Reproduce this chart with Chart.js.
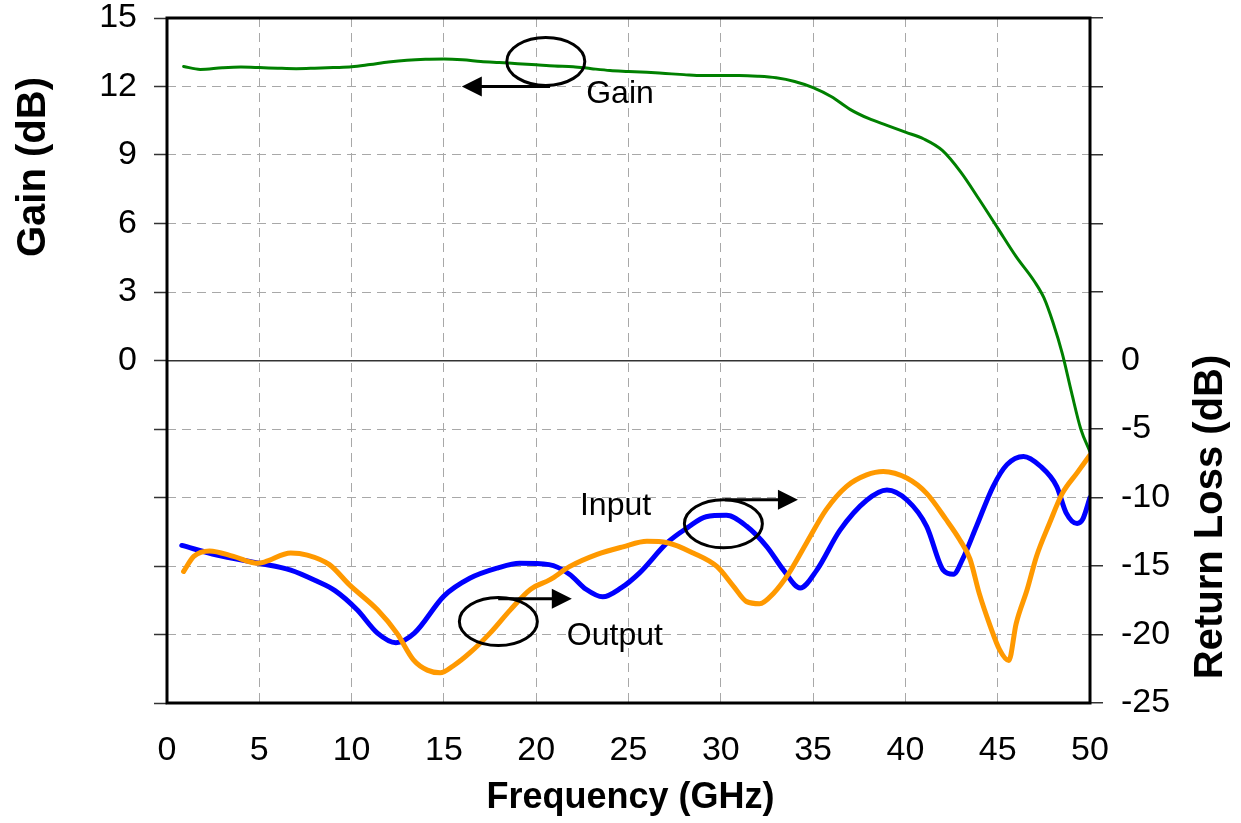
<!DOCTYPE html>
<html>
<head>
  <meta charset="utf-8">
  <script src="https://cdn.jsdelivr.net/npm/chart.js@4.4.1/dist/chart.umd.min.js"></script>
  <style>
    html, body { margin: 0; padding: 0; background: #fff; }
  </style>
</head>
<body>
<canvas id="myChart" width="1241" height="823"></canvas>
<script>
const FONT = '"Liberation Sans", Arial, Helvetica, sans-serif';

// Gain, left axis (dB)
const gainFreq = [0.9, 1.8, 3, 4, 5, 6, 7, 8, 9, 10, 11, 12, 13, 14, 15, 16, 17, 18, 19, 20,
  21, 22, 23, 24, 25, 26, 27, 28, 29, 30, 31, 32, 33, 34, 35, 36, 37, 38, 39, 40,
  41, 42, 43, 44, 45, 46, 47, 47.5, 48, 48.5, 49, 49.5, 50];
const gainDb = [12.88, 12.75, 12.82, 12.85, 12.83, 12.8, 12.78, 12.8, 12.83, 12.86, 12.96, 13.07, 13.15, 13.19, 13.2, 13.17, 13.1, 13.05, 13.0, 12.95,
  12.9, 12.87, 12.78, 12.7, 12.66, 12.62, 12.57, 12.52, 12.48, 12.48, 12.48, 12.45, 12.38, 12.22, 11.95, 11.55, 11.0, 10.6, 10.3, 10.0,
  9.7, 9.2, 8.25, 7.05, 5.8, 4.55, 3.45, 2.75, 1.65, 0.3, -1.4, -3.0, -4.0];

// Input return loss, right axis (dB)
const inputFreq = [0.8, 2.7, 5.0, 6.7, 8.1, 9.1, 10.3, 11.4, 12.4, 13.4, 15.0, 16.4, 17.9, 19.1, 20.7, 21.8, 22.7, 23.6, 24.6, 25.6,
  27.1, 28.2, 29.2, 30.3, 31.4, 32.5, 33.4, 34.3, 35.2, 36.45, 37.9, 39.0, 40.1, 41.15, 42.05, 42.6, 43.1, 43.85, 44.75, 45.5,
  46.4, 47.3, 48.2, 48.7, 49.3, 49.6, 50.0];
const inputRl = [-13.5, -14.2, -14.8, -15.3, -16.1, -16.8, -18.2, -19.9, -20.6, -19.9, -17.2, -15.9, -15.15, -14.8, -14.9, -15.6, -16.7, -17.25, -16.6, -15.5,
  -13.3, -12.2, -11.4, -11.3, -12.1, -13.6, -15.3, -16.6, -15.3, -12.4, -10.2, -9.45, -10.2, -12.1, -15.3, -15.6, -14.5, -12.1, -9.2, -7.6,
  -7.0, -7.7, -9.2, -11.1, -11.9, -11.6, -10.0];

// Output return loss, right axis (dB)
const outputFreq = [0.9, 1.45, 2.3, 3.6, 4.9, 5.3, 6.7, 7.6, 8.8, 9.9, 11.4, 12.45, 13.35, 14.1, 14.8, 15.5, 16.4, 17.5, 18.6, 19.7,
  20.75, 21.8, 23.3, 24.7, 26.0, 27.1, 28.5, 29.8, 30.7, 31.4, 32.1, 32.85, 33.7, 34.65, 35.7, 36.8, 37.9, 38.8, 40.1, 41.15,
  42.2, 42.95, 43.5, 44.0, 44.6, 45.1, 45.6, 46.0, 46.6, 47.1, 47.8, 48.5, 49.3, 50.0];
const outputRl = [-15.4, -14.3, -13.9, -14.3, -14.8, -14.7, -14.05, -14.2, -14.9, -16.4, -18.2, -19.9, -21.85, -22.6, -22.8, -22.3, -21.35, -19.9, -18.2, -16.7,
  -16.0, -15.05, -14.15, -13.6, -13.2, -13.3, -14.05, -15.05, -16.5, -17.6, -17.75, -17.0, -15.5, -13.3, -10.9, -9.2, -8.35, -8.1, -8.6, -9.7,
  -11.6, -13.1, -14.5, -17.0, -19.4, -21.1, -21.9, -19.2, -16.7, -14.3, -11.9, -9.7, -8.2, -6.9];

// callouts: ellipse centre, arrow (from x, to x, at y), label left/baseline, in data units
const notes = [
  { text: 'Gain', axis: 'y', ellipse: [20.52, 13.1], arrow: [20.75, 15.97, 12.0], label: [22.71, 11.27] },
  { text: 'Input', axis: 'y2', ellipse: [30.14, -11.92], arrow: [30.23, 34.18, -10.17], label: [22.37, -11.26] },
  { text: 'Output', axis: 'y2', ellipse: [17.95, -19.05], arrow: [17.94, 21.93, -17.39], label: [21.66, -20.75] }
];

const pairs = (xs, ys) => xs.map((x, i) => ({ x: x, y: ys[i] }));

const extras = {
  id: 'extras',
  afterDraw(chart) {
    const ctx = chart.ctx;
    const a = chart.chartArea;
    const sx = chart.scales.x;
    ctx.save();
    // frame
    ctx.strokeStyle = '#000';
    ctx.lineWidth = 3;
    ctx.strokeRect(a.left, a.top, a.right - a.left, a.bottom - a.top);

    // callouts
    ctx.lineWidth = 3;
    ctx.fillStyle = '#000';
    notes.forEach(n => {
      const sy = chart.scales[n.axis];
      ctx.beginPath();
      ctx.ellipse(sx.getPixelForValue(n.ellipse[0]), sy.getPixelForValue(n.ellipse[1]), 39, 24, 0, 0, Math.PI * 2);
      ctx.stroke();
      const x1 = sx.getPixelForValue(n.arrow[0]);
      const x2 = sx.getPixelForValue(n.arrow[1]);
      const y = sy.getPixelForValue(n.arrow[2]);
      const dir = Math.sign(x2 - x1);
      ctx.beginPath();
      ctx.moveTo(x1, y);
      ctx.lineTo(x2 - dir * 18, y);
      ctx.stroke();
      ctx.beginPath();
      ctx.moveTo(x2, y);
      ctx.lineTo(x2 - dir * 20, y - 10);
      ctx.lineTo(x2 - dir * 20, y + 10);
      ctx.closePath();
      ctx.fill();
      ctx.font = '32px ' + FONT;
      ctx.textAlign = 'left';
      ctx.textBaseline = 'alphabetic';
      ctx.fillText(n.text, sx.getPixelForValue(n.label[0]), sy.getPixelForValue(n.label[1]));
    });

    // axis titles
    ctx.textAlign = 'center';
    ctx.textBaseline = 'middle';
    ctx.font = 'bold 36px ' + FONT;
    ctx.fillText('Frequency (GHz)', (a.left + a.right) / 2 + 2, 798);
    ctx.font = 'bold 40px ' + FONT;
    ctx.save();
    ctx.translate(34, 167);
    ctx.rotate(-Math.PI / 2);
    ctx.fillText('Gain (dB)', 0, 0);
    ctx.restore();
    ctx.save();
    ctx.translate(1211, 517);
    ctx.rotate(-Math.PI / 2);
    ctx.fillText('Return Loss (dB)', 0, 0);
    ctx.restore();
    ctx.restore();
  }
};

const tickFont = { family: FONT, size: 34, lineHeight: 1 };

// fixed axis sizes so the plot area sits where the original one does
const fitY = w => s => { s.width = w; s.paddingTop = 0; s.paddingBottom = 0; };

new Chart(document.getElementById('myChart'), {
  type: 'line',
  data: {
    datasets: [
      { label: 'Gain', data: pairs(gainFreq, gainDb), yAxisID: 'y', borderColor: '#008000', borderWidth: 3 },
      { label: 'Output', data: pairs(outputFreq, outputRl), yAxisID: 'y2', borderColor: '#FF9900', borderWidth: 5 },
      { label: 'Input', data: pairs(inputFreq, inputRl), yAxisID: 'y2', borderColor: '#0000FF', borderWidth: 5 }
    ]
  },
  options: {
    responsive: false,
    animation: false,
    layout: { padding: { top: 18 } },
    elements: {
      point: { radius: 0 },
      line: { cubicInterpolationMode: 'monotone', borderCapStyle: 'round', borderJoinStyle: 'round' }
    },
    plugins: { legend: { display: false }, tooltip: { enabled: false } },
    scales: {
      x: {
        type: 'linear', min: 0, max: 50,
        afterFit: s => { s.height = 120; },
        ticks: { stepSize: 5, color: '#000', font: tickFont, padding: 31, maxRotation: 0 },
        grid: { color: '#a8a8a8', lineWidth: 1, drawTicks: false },
        border: { display: false, dash: [9, 6] }
      },
      y: {
        position: 'left', min: -15, max: 15,
        afterFit: fitY(167),
        ticks: { stepSize: 3, color: '#000', font: tickFont, padding: 17, callback: v => (v >= 0 ? v : '') },
        grid: {
          color: c => (c.tick && c.tick.value === 0 ? 'rgba(0,0,0,0)' : '#a8a8a8'),
          lineWidth: 1, tickLength: 13, tickColor: '#333', tickWidth: 1.5
        },
        border: { display: false, dash: [9, 6] }
      },
      y2: {
        position: 'right', min: -25, max: 25,
        afterFit: fitY(151),
        ticks: { stepSize: 5, color: '#000', font: tickFont, padding: 18, callback: v => (v <= 0 ? v : '') },
        grid: {
          color: c => (c.tick && c.tick.value === 0 ? '#333' : 'rgba(0,0,0,0)'),
          lineWidth: 1.5, tickLength: 13, tickColor: '#333', tickWidth: 1.5
        },
        border: { display: false }
      }
    }
  },
  plugins: [extras]
});
</script>
</body>
</html>
